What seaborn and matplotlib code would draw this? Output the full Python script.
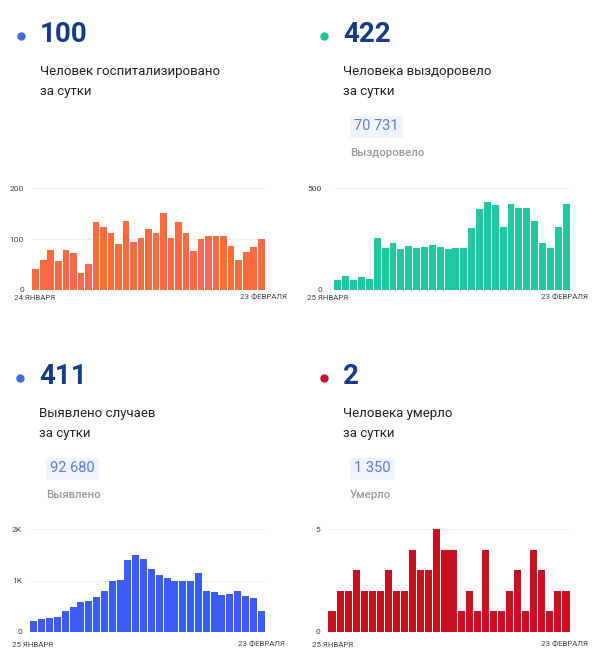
import numpy as np
import pandas as pd
import matplotlib
matplotlib.use("Agg")
import matplotlib.pyplot as plt
from matplotlib.lines import Line2D
from matplotlib.patches import Rectangle
import seaborn as sns

# ------------------------------------------
# DATA
# ------------------------------------------

hospitalized = [41, 58, 79, 57, 79, 72, 34, 51, 133, 123, 112, 90, 135, 94, 101, 120,
                112, 151, 101, 134, 112, 76, 100, 105, 106, 106, 86, 59, 74, 84, 100]
recovered = [49, 68, 50, 64, 54, 254, 207, 228, 202, 215, 204, 212, 220, 212, 202,
             207, 207, 305, 399, 430, 415, 309, 422, 402, 401, 340, 230, 204, 311, 422]
detected = [220, 252, 265, 298, 414, 492, 583, 608, 673, 803, 990, 1003, 1398, 1495,
            1417, 1230, 1100, 1049, 990, 997, 990, 1146, 790, 777, 712, 738, 790, 706,
            667, 411]
deaths = [1, 2, 2, 3, 2, 2, 2, 3, 2, 2, 4, 3, 3, 5, 4, 4, 1, 2, 1, 4, 1, 1, 2, 3, 1,
          4, 3, 1, 2, 2]

headlines = ["100", "422", "411", "2"]
captions = [["Человек госпитализировано", "за сутки"],
            ["Человека выздоровело", "за сутки"],
            ["Выявлено случаев", "за сутки"],
            ["Человека умерло", "за сутки"]]
totals = [None, "70 731", "92 680", "1 350"]
total_labels = [None, "Выздоровело", "Выявлено", "Умерло"]
start_dates = ["24 ЯНВАРЯ", "25 ЯНВАРЯ", "25 ЯНВАРЯ", "25 ЯНВАРЯ"]
end_date = "23 ФЕВРАЛЯ"

y_ticks = [[0, 100, 200], [0, 500], [0, 1000, 2000], [0, 5]]
y_tick_labels = [["0", "100", "200"], ["0", "500"], ["0", "1K", "2K"], ["0", "5"]]

# ------------------------------------------
# STYLE
# ------------------------------------------

sns.set_style("white")
plt.rcParams["font.family"] = ["Roboto", "DejaVu Sans"]

W, H = 600, 671
bar_colors = ["#f96c42", "#20c9a0", "#3b5cf5", "#c8111f"]
dot_colors = ["#3d6be0", "#20c49c", "#3d6be0", "#c8102e"]
navy = "#163c88"


def fx(x):
    return x / W


def fy(y):
    return 1 - y / H


fig = plt.figure(figsize=(W / 100, H / 100), dpi=100)
fig.patch.set_facecolor("white")

# panel layout in pixels: (text x, headline y, axes left, axes right, axes top, axes bottom, label pad)
panels = [
    (40, 35, 32, 265, 188, 290, 8, 14, 287, 298),
    (343, 35, 334, 570, 188, 290, 12, 307, 588, 298),
    (39, 377, 30, 265, 529, 632, 8, 12, 285, 645),
    (343, 377, 328, 570, 529, 632, 8, 312, 588, 645),
]
series = [hospitalized, recovered, detected, deaths]

for i, (tx, hy, al, ar, at, ab, pad, lx0, lx1, ly) in enumerate(panels):
    # header
    fig.add_artist(Line2D([fx(tx - 19)], [fy(hy + 1)], marker="o", markersize=5,
                          color=dot_colors[i], transform=fig.transFigure))
    fig.text(fx(tx), fy(hy), headlines[i], fontsize=20, fontweight="bold",
             color=navy, va="center", ha="left")
    fig.text(fx(tx), fy(hy + 37), captions[i][0], fontsize=9.5, color="#222222",
             va="center", ha="left")
    fig.text(fx(tx), fy(hy + 56), captions[i][1], fontsize=9.5, color="#222222",
             va="center", ha="left")
    if totals[i] is not None:
        bx = tx + 7
        fig.add_artist(Rectangle((fx(bx), fy(hy + 103)), fx(len(totals[i]) * 8.3 + 3),
                                 22 / H, transform=fig.transFigure,
                                 facecolor="#eef3fc", edgecolor="none"))
        fig.text(fx(bx + 4), fy(hy + 91), totals[i], fontsize=10.5, color="#5c7fd9",
                 va="center", ha="left")
        fig.text(fx(bx), fy(hy + 118), total_labels[i], fontsize=8.2,
                 fontweight="medium", color="#9a9a9a", va="center", ha="left")

    # bar chart
    ax = fig.add_axes([fx(al), fy(ab), (ar - al) / W, (ab - at) / H])
    df = pd.DataFrame({"day": range(len(series[i])), "value": series[i]})
    sns.barplot(data=df, x="day", y="value", color=bar_colors[i], saturation=1,
                width=0.88, linewidth=0, ax=ax)
    n = len(series[i])
    ax.set_xlim(-0.5, n - 0.5)
    ax.set_ylim(0, y_ticks[i][-1])
    ax.set_yticks(y_ticks[i])
    ax.set_yticklabels(y_tick_labels[i])
    ax.set_xticks([])
    ax.set_xlabel("")
    ax.set_ylabel("")
    ax.tick_params(axis="y", length=0, pad=pad * 0.72, labelsize=6, labelcolor="#444444")
    ax.yaxis.grid(True, color="#eeeeee", linewidth=0.7)
    ax.set_axisbelow(True)
    sns.despine(ax=ax, left=True, bottom=True)

    fig.text(fx(lx0), fy(ly), start_dates[i], fontsize=5.7, color="#444444",
             va="center", ha="left")
    fig.text(fx(lx1), fy(ly), end_date, fontsize=5.7, color="#444444",
             va="center", ha="right")

fig.savefig("out.png", dpi=100, facecolor="white")
